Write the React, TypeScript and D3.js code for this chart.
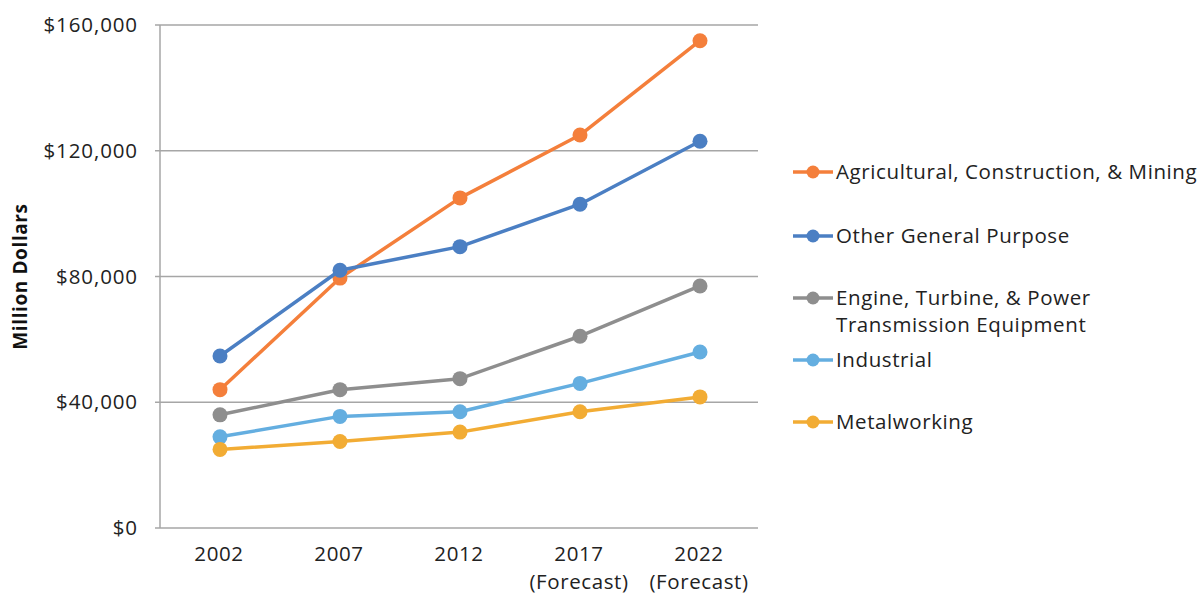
import { useEffect, useRef } from 'react';
import * as d3 from 'd3';

const years = ['2002', '2007', '2012', '2017', '2022'];
const yearNotes = ['', '', '', '(Forecast)', '(Forecast)'];

const seriesNames = [
  'Agricultural, Construction, & Mining',
  'Other General Purpose',
  'Engine, Turbine, & Power Transmission Equipment',
  'Industrial',
  'Metalworking',
];
const seriesColors = ['#F47F3B', '#4B7FC3', '#8E8E8E', '#64AEE0', '#F2AC34'];

const agricultural = [44000, 79500, 105000, 125000, 155000];
const otherGeneral = [54700, 82000, 89500, 103000, 123000];
const engineTurbine = [36000, 44000, 47500, 61000, 77000];
const industrial = [29000, 35500, 37000, 46000, 56000];
const metalworking = [25000, 27500, 30500, 37000, 41700];

const seriesValues = [agricultural, otherGeneral, engineTurbine, industrial, metalworking];

const yTicks = [0, 40000, 80000, 120000, 160000];

// legend label lines (the third name wraps)
const legendLines = [
  ['Agricultural, Construction, & Mining'],
  ['Other General Purpose'],
  ['Engine, Turbine, & Power', 'Transmission Equipment'],
  ['Industrial'],
  ['Metalworking'],
];

const W = 1200;
const H = 594;
const FONT = '"Open Sans", sans-serif';
const FS = 20.5;
const LS = 0.6;

const App = () => {
  const svgRef = useRef<SVGSVGElement>(null);

  useEffect(() => {
    if (!svgRef.current) return;
    const svg = d3.select(svgRef.current);
    svg.selectAll('*').remove();

    const left = 160;
    const right = 760;
    const top = 25;
    const bottom = 528;

    const x = d3.scaleBand<string>().domain(years).range([left, right]);
    const y = d3.scaleLinear().domain([0, 160000]).range([bottom, top]);

    // grid lines
    svg.append('g')
      .selectAll('line')
      .data(yTicks)
      .join('line')
      .attr('x1', left)
      .attr('x2', right - 2)
      .attr('y1', d => y(d))
      .attr('y2', d => y(d))
      .attr('stroke', '#A6A6A6')
      .attr('stroke-width', 1.5);

    // left axis
    svg.append('line')
      .attr('x1', left).attr('x2', left)
      .attr('y1', top).attr('y2', bottom)
      .attr('stroke', '#A6A6A6').attr('stroke-width', 1.5);
    svg.append('g')
      .selectAll('line')
      .data(yTicks)
      .join('line')
      .attr('x1', left - 5).attr('x2', left)
      .attr('y1', d => y(d)).attr('y2', d => y(d))
      .attr('stroke', '#A6A6A6').attr('stroke-width', 1.5);

    const fmt = d3.format(',');
    svg.append('g')
      .selectAll('text')
      .data(yTicks)
      .join('text')
      .attr('x', 138)
      .attr('y', d => y(d) + 7)
      .attr('text-anchor', 'end')
      .attr('font-family', FONT)
      .attr('font-size', FS)
      .attr('letter-spacing', 0.9)
      .attr('fill', '#222')
      .text(d => '$' + fmt(d));

    // y title
    svg.append('text')
      .attr('transform', `translate(27, ${(top + bottom) / 2}) rotate(-90)`)
      .attr('text-anchor', 'middle')
      .attr('font-family', FONT)
      .attr('font-weight', 700)
      .attr('font-size', 19)
      .attr('letter-spacing', 0.6)
      .attr('fill', '#111')
      .text('Million Dollars');

    // x labels (year, plus forecast note as a second line)
    const xl = svg.append('g');
    years.forEach((yr, i) => {
      const cx = (x(yr) ?? 0) + x.bandwidth() / 2 - 1;
      const t = xl.append('text')
        .attr('x', cx).attr('y', 561)
        .attr('text-anchor', 'middle')
        .attr('font-family', FONT).attr('font-size', FS).attr('letter-spacing', LS).attr('fill', '#222');
      t.append('tspan').attr('x', cx).attr('dy', 0).text(yr);
      if (yearNotes[i]) {
        t.append('tspan').attr('x', cx).attr('dy', 28).text(yearNotes[i]);
      }
    });

    // series
    const line = d3.line<number>()
      .x((_, i) => (x(years[i]) ?? 0) + x.bandwidth() / 2)
      .y(d => y(d));

    seriesValues.forEach((vals, si) => {
      const g = svg.append('g');
      g.append('path')
        .datum(vals)
        .attr('d', line)
        .attr('fill', 'none')
        .attr('stroke', seriesColors[si])
        .attr('stroke-width', 3.5)
        .attr('stroke-linejoin', 'round');
      g.selectAll('circle')
        .data(vals)
        .join('circle')
        .attr('cx', (_, i) => (x(years[i]) ?? 0) + x.bandwidth() / 2)
        .attr('cy', d => y(d))
        .attr('r', 7.5)
        .attr('fill', seriesColors[si]);
    });

    // legend
    const legendRows = [172, 236, 298, 360, 422];
    const lg = svg.append('g');
    seriesNames.forEach((name, si) => {
      const ry = legendRows[si];
      lg.append('line')
        .attr('x1', 793).attr('x2', 833)
        .attr('y1', ry).attr('y2', ry)
        .attr('stroke', seriesColors[si]).attr('stroke-width', 3.5);
      lg.append('circle')
        .attr('cx', 813).attr('cy', ry).attr('r', 6.5)
        .attr('fill', seriesColors[si]);
      const t = lg.append('text')
        .attr('x', 836).attr('y', ry + 7)
        .attr('font-family', FONT).attr('font-size', FS).attr('letter-spacing', LS).attr('fill', '#222');
      legendLines[si].forEach((ln, li) => {
        t.append('tspan').attr('x', 836).attr('dy', li === 0 ? 0 : 27).text(ln);
      });
      t.append('title').text(name);
    });
  }, []);

  return <svg ref={svgRef} width={W} height={H} style={{ display: 'block', position: 'absolute', left: 0, top: 0 }} />;
};

export default App;
